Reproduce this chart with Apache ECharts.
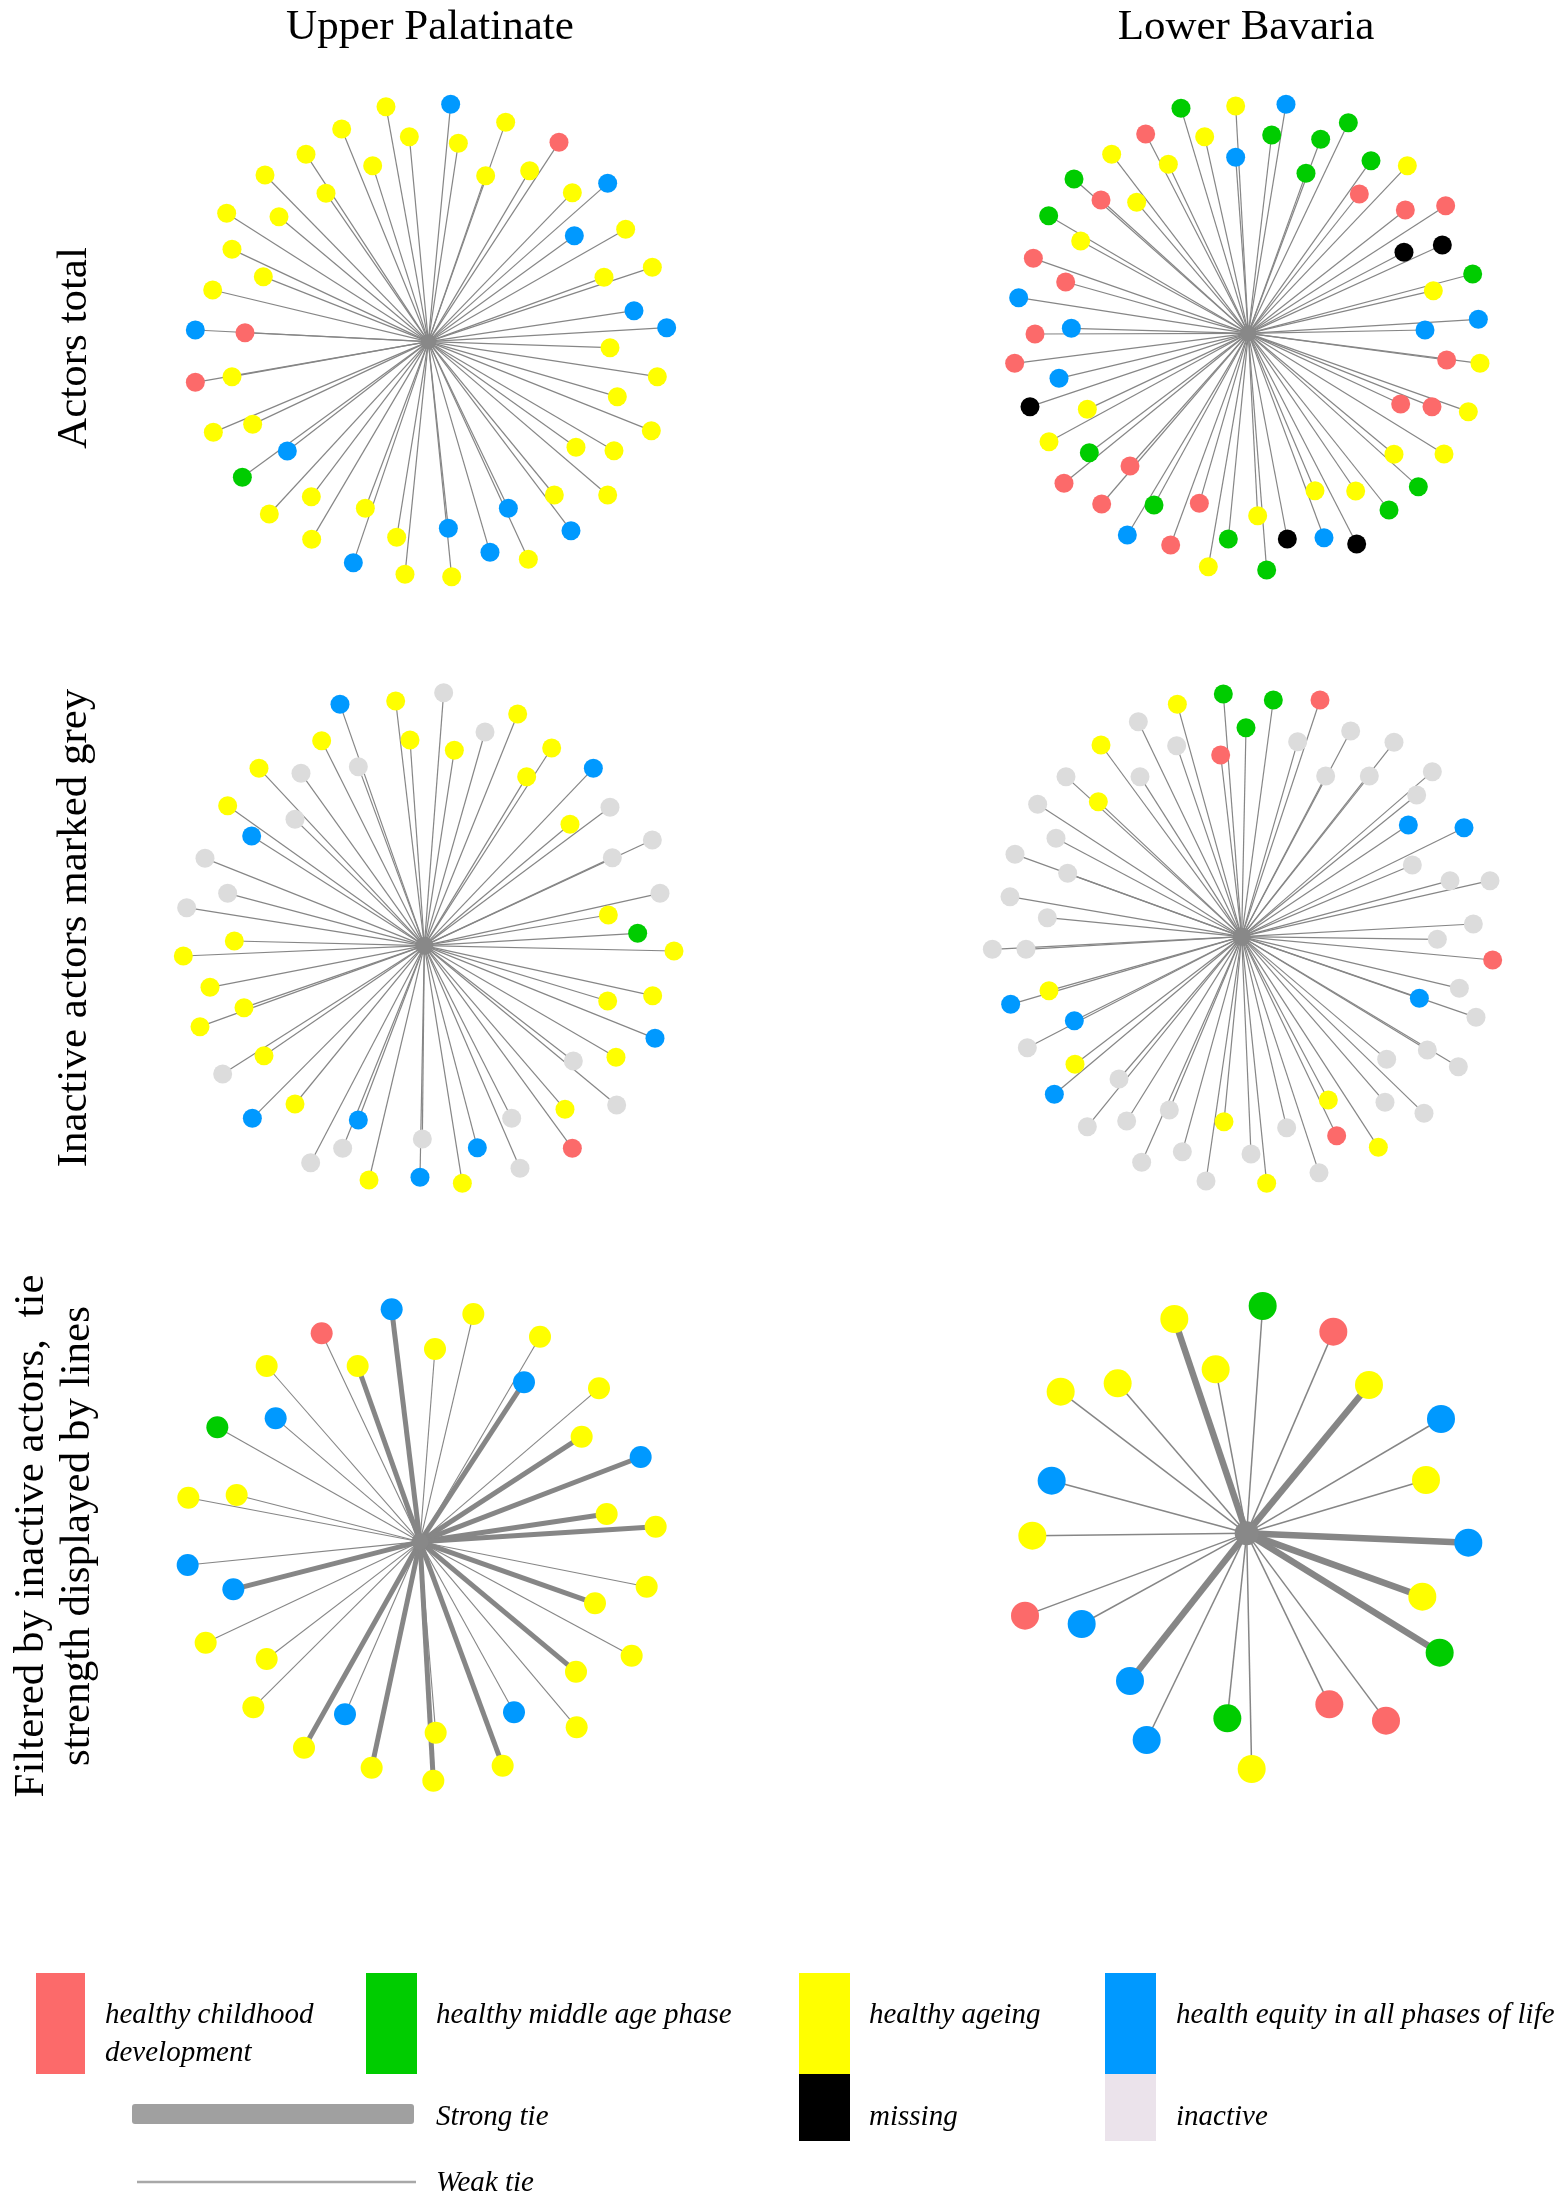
<!DOCTYPE html>
<html>
<head>
<meta charset="utf-8">
<script src="https://cdn.jsdelivr.net/npm/echarts@6/dist/echarts.min.js"></script>
<style>
html,body{margin:0;padding:0;background:#fff;}
#chart{width:1559px;height:2198px;}
</style>
</head>
<body>
<div id="chart"></div>
<script>
// ---- Data (layout units: node positions) ----
const columnTitles = ['Upper Palatinate', 'Lower Bavaria'];
const rowTitles = ['Actors total', 'Inactive actors marked grey', ['Filtered by inactive actors,  tie', 'strength displayed by lines']];

const categoryNames = {
  R: 'healthy childhood development',
  G: 'healthy middle age phase',
  Y: 'healthy ageing',
  B: 'health equity in all phases of life',
  K: 'missing',
  I: 'inactive'
};

// centre (ego) positions per panel
const upperTotalCenter = [775, 785];
const lowerTotalCenter = [775, 760];
const upperInactiveCenter = [778, 827];
const lowerInactiveCenter = [800, 800];
const upperFilteredCenter = [765, 800];
const lowerFilteredCenter = [785, 775];

const upperTotalNodes = [
[648,80,'Y'],[842,73,'B'],[1007,127,'Y'],[1167,187,'R'],[515,147,'Y'],[718,170,'Y'],[865,190,'Y'],[408,223,'Y'],[608,257,'Y'],[947,287,'Y'],[1079,272,'Y'],[285,285,'Y'],[468,340,'Y'],[1207,338,'Y'],[1313,310,'B'],[170,400,'Y'],[327,410,'Y'],[1213,467,'B'],[1367,448,'Y'],[186,508,'Y'],[280,590,'Y'],[1302,592,'Y'],[1447,562,'Y'],[128,630,'Y'],[1392,692,'B'],[76,750,'B'],[225,758,'R'],[1490,743,'B'],[1320,803,'Y'],[76,907,'R'],[186,890,'Y'],[1462,890,'Y'],[1342,950,'Y'],[130,1057,'Y'],[248,1033,'Y'],[1444,1052,'Y'],[352,1113,'B'],[1218,1102,'Y'],[1332,1112,'Y'],[217,1192,'G'],[424,1250,'Y'],[1153,1245,'Y'],[1313,1245,'Y'],[298,1302,'Y'],[586,1285,'Y'],[1015,1285,'B'],[835,1345,'B'],[1203,1352,'B'],[425,1378,'Y'],[680,1372,'Y'],[960,1417,'B'],[550,1448,'B'],[1075,1438,'Y'],[705,1483,'Y'],[845,1490,'Y']
];

const lowerTotalNodes = [
[573,85,'G'],[737,78,'Y'],[888,73,'B'],[467,162,'R'],[644,170,'Y'],[845,165,'G'],[1075,128,'G'],[365,223,'Y'],[535,253,'Y'],[737,232,'B'],[992,178,'G'],[948,280,'G'],[1143,242,'G'],[1252,257,'Y'],[252,297,'G'],[333,360,'R'],[440,367,'Y'],[1108,342,'R'],[1246,390,'R'],[1367,377,'R'],[176,407,'G'],[272,483,'Y'],[1242,517,'K'],[1357,495,'K'],[130,535,'R'],[227,606,'R'],[1448,582,'G'],[1330,632,'Y'],[86,653,'B'],[244,745,'B'],[135,762,'R'],[1465,718,'B'],[1305,750,'B'],[74,850,'R'],[1370,840,'R'],[1470,850,'Y'],[207,895,'B'],[120,980,'K'],[292,988,'Y'],[1232,972,'R'],[1326,980,'R'],[1435,995,'Y'],[177,1085,'Y'],[298,1118,'G'],[1212,1123,'Y'],[1362,1122,'Y'],[420,1158,'R'],[222,1210,'R'],[1285,1220,'G'],[335,1272,'R'],[492,1275,'G'],[628,1270,'R'],[975,1232,'Y'],[1097,1233,'Y'],[1197,1290,'G'],[803,1307,'Y'],[412,1365,'B'],[715,1377,'G'],[892,1377,'K'],[1002,1373,'B'],[1100,1392,'K'],[542,1395,'R'],[655,1460,'Y'],[830,1470,'G']
];

const upperInactiveNodes = [
[525,103,'B'],[692,93,'Y'],[836,68,'I'],[1058,132,'Y'],[960,186,'I'],[470,212,'Y'],[735,210,'Y'],[868,241,'Y'],[1160,234,'Y'],[580,290,'I'],[1285,295,'B'],[282,295,'Y'],[408,310,'I'],[1085,320,'Y'],[188,407,'Y'],[1335,412,'I'],[390,448,'I'],[1215,463,'Y'],[260,498,'B'],[1462,510,'I'],[120,565,'I'],[1342,563,'I'],[188,670,'I'],[1485,670,'I'],[65,713,'I'],[1330,735,'Y'],[1418,790,'G'],[208,813,'Y'],[55,858,'Y'],[1527,843,'Y'],[135,952,'Y'],[1463,977,'Y'],[1328,993,'Y'],[237,1013,'Y'],[105,1070,'Y'],[1470,1105,'B'],[297,1157,'Y'],[1353,1162,'Y'],[1225,1173,'I'],[173,1212,'I'],[390,1302,'Y'],[1355,1305,'I'],[262,1345,'B'],[580,1350,'B'],[1200,1318,'Y'],[1040,1345,'I'],[772,1407,'I'],[533,1435,'I'],[937,1433,'B'],[1222,1435,'R'],[437,1478,'I'],[1065,1495,'I'],[612,1530,'Y'],[765,1522,'B'],[892,1540,'Y']
];

const lowerInactiveNodes = [
[607,103,'Y'],[745,72,'G'],[895,90,'G'],[1035,90,'R'],[490,155,'I'],[813,173,'G'],[1127,183,'I'],[378,225,'Y'],[605,227,'I'],[968,215,'I'],[737,255,'R'],[1257,217,'I'],[273,320,'I'],[495,320,'I'],[1052,318,'I'],[1183,318,'I'],[1372,305,'I'],[1325,375,'I'],[370,395,'Y'],[188,403,'I'],[1300,465,'B'],[1467,473,'B'],[243,505,'I'],[120,553,'I'],[278,610,'I'],[1312,585,'I'],[1425,632,'I'],[1545,632,'I'],[105,680,'I'],[217,743,'I'],[1495,762,'I'],[1387,808,'I'],[52,838,'I'],[153,838,'I'],[1553,870,'R'],[222,962,'Y'],[1453,955,'I'],[107,1003,'B'],[1333,985,'B'],[1503,1042,'I'],[298,1052,'B'],[157,1133,'I'],[1357,1140,'I'],[1235,1168,'I'],[1450,1190,'I'],[300,1183,'Y'],[432,1227,'I'],[238,1273,'B'],[1060,1290,'Y'],[1230,1297,'I'],[1347,1330,'I'],[583,1320,'I'],[455,1353,'I'],[337,1370,'I'],[747,1355,'Y'],[935,1373,'I'],[1085,1397,'R'],[1210,1432,'Y'],[622,1445,'I'],[828,1452,'I'],[500,1477,'I'],[1032,1508,'I'],[693,1533,'I'],[875,1540,'Y']
];

// [x, y, category, tie (S = strong, W = weak)]
const upperFilteredNodes = [
[680,103,'B','S'],[925,117,'Y','W'],[470,175,'R','W'],[1125,185,'Y','W'],[810,222,'Y','W'],[578,273,'Y','S'],[305,273,'Y','W'],[1077,322,'B','S'],[1302,340,'Y','W'],[332,430,'B','W'],[157,457,'G','W'],[1250,485,'Y','S'],[1427,546,'B','S'],[70,668,'Y','W'],[215,660,'Y','W'],[1325,717,'Y','S'],[1472,755,'Y','S'],[68,870,'B','W'],[205,943,'B','S'],[1445,935,'Y','W'],[1290,985,'Y','S'],[122,1103,'Y','W'],[1400,1142,'Y','W'],[305,1152,'Y','W'],[1233,1190,'Y','S'],[265,1297,'Y','W'],[540,1318,'B','W'],[1047,1312,'B','W'],[1235,1357,'Y','W'],[812,1373,'Y','W'],[417,1418,'Y','S'],[620,1478,'Y','S'],[1013,1472,'Y','S'],[805,1517,'Y','S']
];

const lowerFilteredNodes = [
[568,132,'Y','S'],[833,93,'G','W'],[1045,170,'R','W'],[692,283,'Y','W'],[398,325,'Y','W'],[227,350,'Y','W'],[1152,330,'Y','S'],[1368,432,'B','W'],[200,617,'B','W'],[1323,615,'Y','W'],[142,782,'Y','W'],[1450,803,'B','S'],[1312,965,'Y','S'],[120,1022,'R','W'],[290,1047,'B','W'],[1364,1133,'G','S'],[435,1218,'B','S'],[1033,1288,'R','W'],[727,1330,'G','W'],[1203,1337,'R','W'],[485,1395,'B','W'],[800,1482,'Y','W']
];

// ---- Styles ----
const COLORS = {R:'#fc6a6a', G:'#00cc00', Y:'#ffff00', B:'#0099ff', K:'#000000', I:'#dcdcdc'};
const EDGE = '#868686';
const SERIF = "'Liberation Serif', 'Times New Roman', serif";

const panels = [
  {nodes: upperTotalNodes, center: upperTotalCenter, box:[170,80,520,520], node:19, ego:15, weak:1.2, strong:1.2},
  {nodes: lowerTotalNodes, center: lowerTotalCenter, box:[990,80,500,520], node:19, ego:16, weak:1.2, strong:1.2},
  {nodes: upperInactiveNodes, center: upperInactiveCenter, box:[165,670,520,520], node:19, ego:18, weak:1.2, strong:1.2},
  {nodes: lowerInactiveNodes, center: lowerInactiveCenter, box:[975,670,520,520], node:19, ego:18, weak:1.2, strong:1.2},
  {nodes: upperFilteredNodes, center: upperFilteredCenter, box:[165,1275,520,520], node:22, ego:17, weak:1.1, strong:5},
  {nodes: lowerFilteredNodes, center: lowerFilteredCenter, box:[985,1275,510,520], node:28, ego:24, weak:1.5, strong:6.5}
];

const grid = [], xAxis = [], yAxis = [], series = [];
panels.forEach((p, i) => {
  const [l, t, w, h] = p.box;
  grid.push({left: l, top: t, width: w, height: h});
  xAxis.push({gridIndex: i, type: 'value', min: 0, max: w * 3, show: false});
  yAxis.push({gridIndex: i, type: 'value', min: 0, max: h * 3, inverse: true, show: false});
  series.push({
    type: 'lines', coordinateSystem: 'cartesian2d', xAxisIndex: i, yAxisIndex: i,
    silent: true, z: 2, clip: false,
    data: p.nodes.map(n => ({
      coords: [p.center, [n[0], n[1]]],
      lineStyle: {color: EDGE, width: n[3] === 'S' ? p.strong : p.weak, opacity: 1}
    }))
  });
  series.push({
    type: 'scatter', xAxisIndex: i, yAxisIndex: i, silent: true, z: 3, clip: false,
    symbol: 'circle', symbolSize: p.node,
    data: p.nodes.map(n => ({value: [n[0], n[1]], itemStyle: {color: COLORS[n[2]], opacity: 1}}))
  });
  series.push({
    type: 'scatter', xAxisIndex: i, yAxisIndex: i, silent: true, z: 4, clip: false,
    symbol: 'circle', symbolSize: p.ego,
    data: [{value: p.center, itemStyle: {color: '#888888', opacity: 1}}]
  });
});

function txt(text, x, y, size, opts) {
  opts = opts || {};
  return {
    type: 'text', x: x, y: y, rotation: opts.rot || 0, silent: true,
    style: {
      text: text, x: 0, y: 0,
      font: (opts.italic ? 'italic ' : '') + size + 'px ' + SERIF,
      fill: '#000',
      align: opts.align || 'left', textAlign: opts.align || 'left',
      verticalAlign: 'middle', textVerticalAlign: 'middle'
    }
  };
}
function rect(x, y, w, h, color, r) {
  return {type: 'rect', silent: true, shape: {x: x, y: y, width: w, height: h, r: r || 0}, style: {fill: color}};
}

const graphics = [
  txt(columnTitles[0], 430, 28, 43, {align: 'center'}),
  txt(columnTitles[1], 1246, 28, 43, {align: 'center'}),
  txt(rowTitles[0], 75, 348, 43, {align: 'center', rot: Math.PI / 2}),
  txt(rowTitles[1], 75, 928, 43, {align: 'center', rot: Math.PI / 2}),
  txt(rowTitles[2][0], 32, 1536, 43, {align: 'center', rot: Math.PI / 2}),
  txt(rowTitles[2][1], 78, 1536, 43, {align: 'center', rot: Math.PI / 2}),
  // legend
  rect(36, 1973, 49, 101, COLORS.R),
  txt('healthy childhood', 105, 2015, 29, {italic: true}),
  txt('development', 105, 2053, 29, {italic: true}),
  rect(366, 1973, 51, 101, COLORS.G),
  txt(categoryNames.G, 436, 2015, 29, {italic: true}),
  rect(799, 1973, 51, 101, COLORS.Y),
  txt(categoryNames.Y, 869, 2015, 29, {italic: true}),
  rect(799, 2074, 51, 67, COLORS.K),
  txt(categoryNames.K, 869, 2117, 29, {italic: true}),
  rect(1105, 1973, 51, 101, COLORS.B),
  txt(categoryNames.B, 1176, 2015, 29, {italic: true}),
  rect(1105, 2074, 51, 67, '#ebe3eb'),
  txt(categoryNames.I, 1176, 2117, 29, {italic: true}),
  rect(132, 2104, 282, 20, '#a0a0a0', 3),
  txt('Strong tie', 436, 2117, 29, {italic: true}),
  {type: 'line', silent: true, shape: {x1: 137, y1: 2182, x2: 416, y2: 2182}, style: {stroke: '#a8a8a8', lineWidth: 2.5}},
  txt('Weak tie', 436, 2183, 29, {italic: true})
];

const chart = echarts.init(document.getElementById('chart'), null, {renderer: 'canvas'});
chart.setOption({
  backgroundColor: '#ffffff',
  animation: false,
  grid: grid, xAxis: xAxis, yAxis: yAxis,
  series: series,
  graphic: graphics
});
</script>
</body>
</html>
